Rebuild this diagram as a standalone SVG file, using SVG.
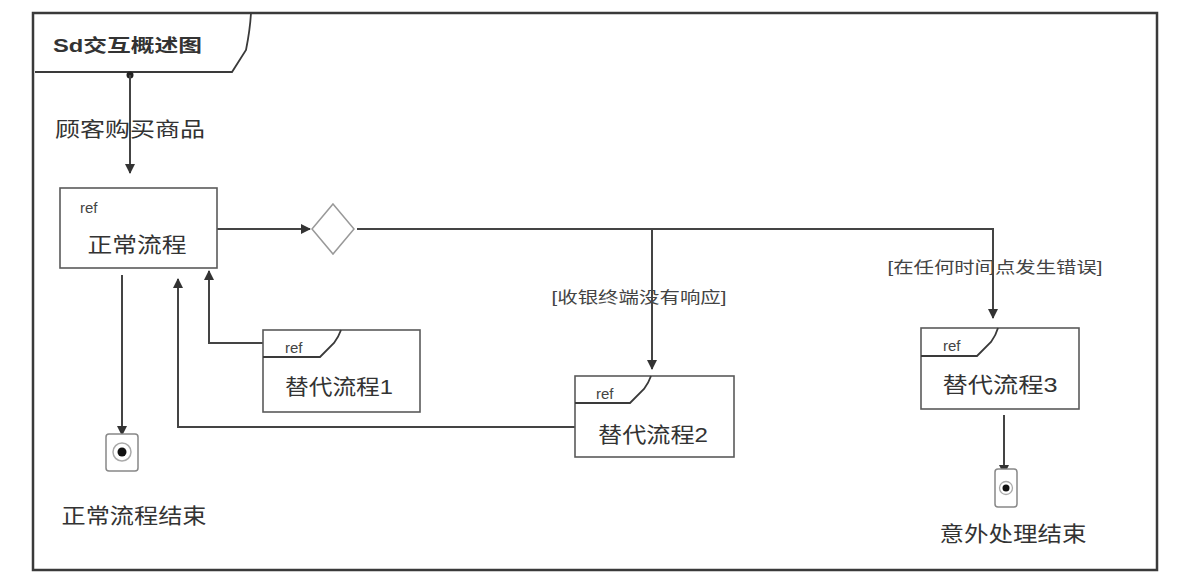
<svg xmlns="http://www.w3.org/2000/svg" width="1199" height="585" viewBox="0 0 1199 585">
  <style>
    .frame { fill: none; stroke: #3a3a3a; stroke-width: 2.5; }
    .box { fill: #fff; stroke: #5a5a5a; stroke-width: 1.6; }
    .tag { fill: none; stroke: #3a3a3a; stroke-width: 1.8; }
    .edge { fill: none; stroke: #444; stroke-width: 2; }
    .t { font-family: "Liberation Sans", "Noto Sans CJK SC", sans-serif; fill: #333; }
    .main { font-size: 21px; text-anchor: middle; }
    .ref { font-size: 15px; fill: #444; }
    .guard { font-size: 16px; text-anchor: middle; fill: #444; }
    .end { fill: #fff; stroke: #888; stroke-width: 1.5; }
  </style>
  <defs>
    <marker id="arrow" viewBox="0 0 10 10" refX="9" refY="5" markerWidth="10" markerHeight="10" markerUnits="userSpaceOnUse" orient="auto">
      <path d="M0,0 L10,5 L0,10 z" fill="#333"/>
    </marker>
  </defs>

  <rect width="1199" height="585" fill="#fff"/>

  <!-- interaction overview frame -->
  <g id="frame">
    <rect class="frame" x="33" y="13" width="1124" height="557"/>
    <path class="tag" d="M35,72 L232,72 L246,50 Q250,30 251,13"/>
    <text class="t" x="53" y="52" font-size="18" font-weight="bold" textLength="149" lengthAdjust="spacingAndGlyphs">Sd交互概述图</text>
  </g>

  <!-- connectors -->
  <g id="connectors">
    <circle cx="130" cy="75" r="3.5" fill="#222"/>
    <line class="edge" x1="130" y1="75" x2="130" y2="173" marker-end="url(#arrow)"/>
    <line class="edge" x1="217" y1="229" x2="310" y2="229" marker-end="url(#arrow)"/>
    <polyline class="edge" points="357,229 993,229 993,318" marker-end="url(#arrow)"/>
    <line class="edge" x1="652" y1="229" x2="652" y2="369" marker-end="url(#arrow)"/>
    <polyline class="edge" points="263,343 209,343 209,271" marker-end="url(#arrow)"/>
    <polyline class="edge" points="575,427 178,427 178,279" marker-end="url(#arrow)"/>
    <line class="edge" x1="122" y1="275" x2="122" y2="435" marker-end="url(#arrow)"/>
    <line class="edge" x1="1004" y1="415" x2="1004" y2="474" marker-end="url(#arrow)"/>
    <text class="t" x="130" y="137" font-size="20" text-anchor="middle" fill="#444" textLength="150" lengthAdjust="spacingAndGlyphs">顾客购买商品</text>
    <text class="t guard" x="639" y="303" textLength="175" lengthAdjust="spacingAndGlyphs">[收银终端没有响应]</text>
    <text class="t guard" x="995" y="273" textLength="215" lengthAdjust="spacingAndGlyphs">[在任何时间点发生错误]</text>
  </g>

  <!-- normal flow reference -->
  <g id="normal-flow">
    <rect class="box" x="60" y="188" width="157" height="80"/>
    <text class="t ref" x="80" y="213">ref</text>
    <text class="t main" x="137" y="252" textLength="99" lengthAdjust="spacingAndGlyphs">正常流程</text>
  </g>

  <!-- decision -->
  <g id="decision">
    <polygon points="333,204 354,229 333,254 312,229" fill="#fff" stroke="#999" stroke-width="1.5"/>
  </g>

  <!-- alternative flow 1 -->
  <g id="alt-flow-1">
    <rect class="box" x="263" y="330" width="157" height="82"/>
    <path class="tag" d="M263,357 L320,357 L334,343 Q339,336 341,330"/>
    <text class="t ref" x="285" y="353">ref</text>
    <text class="t main" x="339" y="394" textLength="108" lengthAdjust="spacingAndGlyphs">替代流程1</text>
  </g>

  <!-- alternative flow 2 -->
  <g id="alt-flow-2">
    <rect class="box" x="575" y="376" width="159" height="81"/>
    <path class="tag" d="M575,403 L630,403 L644,389 Q649,382 651,376"/>
    <text class="t ref" x="596" y="399">ref</text>
    <text class="t main" x="653" y="442" textLength="110" lengthAdjust="spacingAndGlyphs">替代流程2</text>
  </g>

  <!-- alternative flow 3 -->
  <g id="alt-flow-3">
    <rect class="box" x="921" y="328" width="158" height="81"/>
    <path class="tag" d="M921,356 L977,356 L991,342 Q996,335 998,328"/>
    <text class="t ref" x="943" y="351">ref</text>
    <text class="t main" x="1000" y="392" textLength="115" lengthAdjust="spacingAndGlyphs">替代流程3</text>
  </g>

  <!-- normal end -->
  <g id="normal-end">
    <rect class="end" x="106" y="434" width="32" height="37" rx="3"/>
    <circle cx="122" cy="452" r="9" fill="none" stroke="#aaa" stroke-width="1.5"/>
    <circle cx="122" cy="452" r="4.5" fill="#111"/>
    <text class="t" x="134" y="523" font-size="21" text-anchor="middle" textLength="145" lengthAdjust="spacingAndGlyphs">正常流程结束</text>
  </g>

  <!-- exception end -->
  <g id="exception-end">
    <rect class="end" x="995" y="469" width="22" height="38" rx="3"/>
    <circle cx="1006" cy="488" r="6.5" fill="none" stroke="#aaa" stroke-width="1.3"/>
    <circle cx="1006" cy="488" r="3.5" fill="#111"/>
    <text class="t" x="1013" y="541" font-size="21" text-anchor="middle" textLength="147" lengthAdjust="spacingAndGlyphs">意外处理结束</text>
  </g>
</svg>
